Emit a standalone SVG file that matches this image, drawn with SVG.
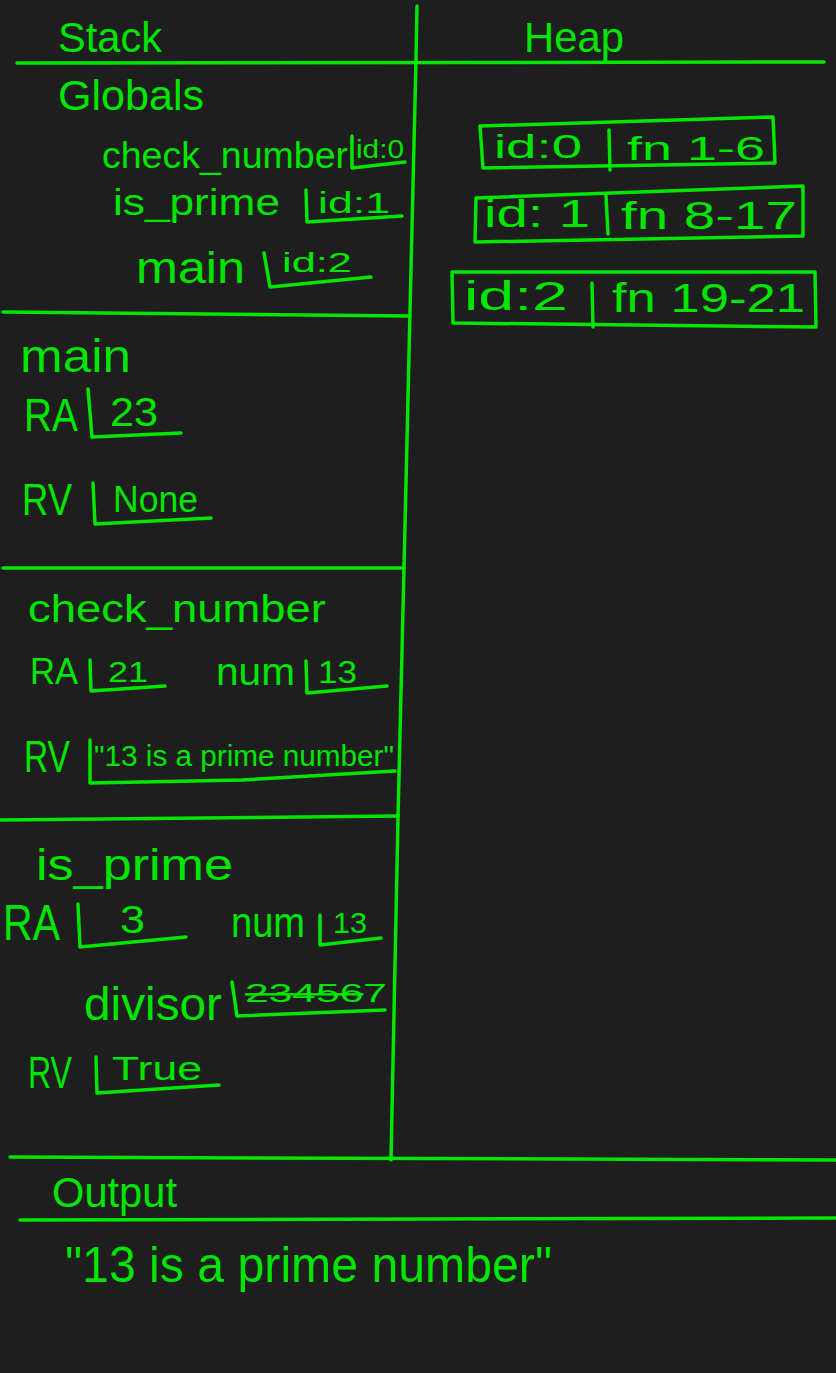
<svg xmlns="http://www.w3.org/2000/svg" width="836" height="1373" viewBox="0 0 836 1373">
<style>
.ln{stroke:#00e600;stroke-width:3.5;fill:none;stroke-linecap:round;stroke-linejoin:round}
.t{fill:#00e600;font-family:"Liberation Sans","DejaVu Sans",sans-serif}
.st{text-decoration:line-through}
</style>
<rect width="836" height="1373" fill="#1e1e1e"/>
<g id="frame">
<path class="ln" d="M417,6 L416,60 L410,312 L404,568 L398,818 L391,1160"/>
<path class="ln" d="M17,63 L824,62"/>
<path class="ln" d="M3,312 L410,316"/>
<path class="ln" d="M3,568 L404,568"/>
<path class="ln" d="M0,820 L398,816"/>
<path class="ln" d="M10,1157 L836,1160"/>
<path class="ln" d="M20,1220 L836,1218"/>
</g>
<g id="headers">
<text class="t" font-size="42" x="58" y="52" textLength="104" lengthAdjust="spacingAndGlyphs">Stack</text>
<text class="t" font-size="42" x="524" y="52" textLength="100" lengthAdjust="spacingAndGlyphs">Heap</text>
</g>
<g id="globals">
<text class="t" font-size="42" x="58" y="110" textLength="146" lengthAdjust="spacingAndGlyphs">Globals</text>
<text class="t" font-size="36" x="102" y="168" textLength="246" lengthAdjust="spacingAndGlyphs">check_number</text>
<path class="ln" d="M352,136 L352,168 L405,162"/>
<text class="t" font-size="26" x="356" y="158" textLength="48" lengthAdjust="spacingAndGlyphs">id:0</text>
<text class="t" font-size="36" x="113" y="215" textLength="167" lengthAdjust="spacingAndGlyphs">is_prime</text>
<path class="ln" d="M306,190 L307,222 L402,216"/>
<text class="t" font-size="30" x="318" y="213" textLength="72" lengthAdjust="spacingAndGlyphs">id:1</text>
<text class="t" font-size="44" x="136" y="283" textLength="109" lengthAdjust="spacingAndGlyphs">main</text>
<path class="ln" d="M264,253 L270,287 L371,277"/>
<text class="t" font-size="28" x="282" y="272" textLength="70" lengthAdjust="spacingAndGlyphs">id:2</text>
</g>
<g id="heap-id0">
<path class="ln" d="M480,126 L773,117 L775,163 L483,168 Z"/>
<path class="ln" d="M609,130 L610,170"/>
<text class="t" font-size="34" x="494" y="158" textLength="88" lengthAdjust="spacingAndGlyphs">id:0</text>
<text class="t" font-size="34" x="627" y="160" textLength="138" lengthAdjust="spacingAndGlyphs">fn 1-6</text>
</g>
<g id="heap-id1">
<path class="ln" d="M476,198 L803,186 L803,236 L475,242 Z"/>
<path class="ln" d="M606,196 L608,234"/>
<text class="t" font-size="38" x="484" y="227" textLength="106" lengthAdjust="spacingAndGlyphs">id: 1</text>
<text class="t" font-size="38" x="621" y="229" textLength="176" lengthAdjust="spacingAndGlyphs">fn 8-17</text>
</g>
<g id="heap-id2">
<path class="ln" d="M452,272 L815,272 L816,327 L453,323 Z"/>
<path class="ln" d="M592,283 L593,327"/>
<text class="t" font-size="40" x="464" y="310" textLength="104" lengthAdjust="spacingAndGlyphs">id:2</text>
<text class="t" font-size="40" x="612" y="312" textLength="193" lengthAdjust="spacingAndGlyphs">fn 19-21</text>
</g>
<g id="frame-main">
<text class="t" font-size="46" x="20" y="372" textLength="111" lengthAdjust="spacingAndGlyphs">main</text>
<text class="t" font-size="46" x="24" y="431" textLength="54" lengthAdjust="spacingAndGlyphs">RA</text>
<path class="ln" d="M88,389 L92,437 L181,433"/>
<text class="t" font-size="40" x="110" y="426" textLength="48" lengthAdjust="spacingAndGlyphs">23</text>
<text class="t" font-size="44" x="22" y="515" textLength="50" lengthAdjust="spacingAndGlyphs">RV</text>
<path class="ln" d="M93,483 L95,524 L211,518"/>
<text class="t" font-size="36" x="113" y="512" textLength="85" lengthAdjust="spacingAndGlyphs">None</text>
</g>
<g id="frame-check_number">
<text class="t" font-size="38" x="28" y="622" textLength="298" lengthAdjust="spacingAndGlyphs">check_number</text>
<text class="t" font-size="36" x="30" y="684" textLength="48" lengthAdjust="spacingAndGlyphs">RA</text>
<path class="ln" d="M90,660 L91,691 L165,686"/>
<text class="t" font-size="29" x="108" y="682" textLength="40" lengthAdjust="spacingAndGlyphs">21</text>
<text class="t" font-size="38" x="216" y="685" textLength="79" lengthAdjust="spacingAndGlyphs">num</text>
<path class="ln" d="M306,661 L307,693 L387,686"/>
<text class="t" font-size="32" x="318" y="683" textLength="39" lengthAdjust="spacingAndGlyphs">13</text>
<text class="t" font-size="44" x="24" y="772" textLength="46" lengthAdjust="spacingAndGlyphs">RV</text>
<path class="ln" d="M90,740 L90,783 L242,780 L395,771"/>
<text class="t" font-size="30" x="94" y="766" textLength="300" lengthAdjust="spacingAndGlyphs">"13 is a prime number"</text>
</g>
<g id="frame-is_prime">
<text class="t" font-size="44" x="36" y="880" textLength="197" lengthAdjust="spacingAndGlyphs">is_prime</text>
<text class="t" font-size="50" x="3" y="940" textLength="57" lengthAdjust="spacingAndGlyphs">RA</text>
<path class="ln" d="M78,904 L80,947 L186,937"/>
<text class="t" font-size="38" x="120" y="933" textLength="25" lengthAdjust="spacingAndGlyphs">3</text>
<text class="t" font-size="42" x="231" y="937" textLength="74" lengthAdjust="spacingAndGlyphs">num</text>
<path class="ln" d="M320,915 L320,945 L381,938"/>
<text class="t" font-size="30" x="333" y="933" textLength="34" lengthAdjust="spacingAndGlyphs">13</text>
<text class="t" font-size="46" x="84" y="1020" textLength="138" lengthAdjust="spacingAndGlyphs">divisor</text>
<path class="ln" d="M232,982 L237,1016 L385,1010"/>
<text class="t" font-size="25" x="245" y="1002" textLength="142" lengthAdjust="spacingAndGlyphs"><tspan class="st">23456</tspan>7</text>
<text class="t" font-size="44" x="28" y="1088" textLength="44" lengthAdjust="spacingAndGlyphs">RV</text>
<path class="ln" d="M96,1057 L97,1093 L219,1085"/>
<text class="t" font-size="34" x="112" y="1080" textLength="90" lengthAdjust="spacingAndGlyphs">True</text>
</g>
<g id="output">
<text class="t" font-size="43" x="52" y="1207" textLength="125" lengthAdjust="spacingAndGlyphs">Output</text>
<text class="t" font-size="50" x="65" y="1282" textLength="487" lengthAdjust="spacingAndGlyphs">"13 is a prime number"</text>
</g>
<g id="connectors"/>
</svg>
